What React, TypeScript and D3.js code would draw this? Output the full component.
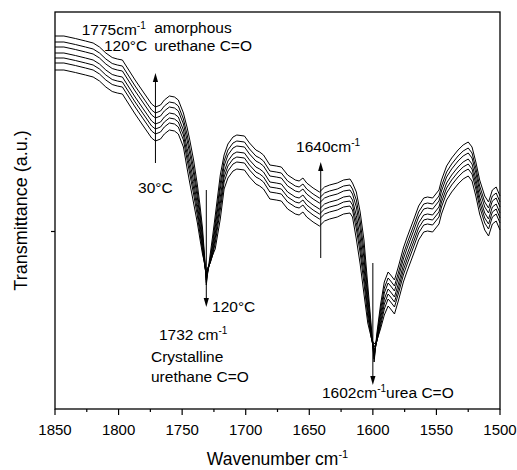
import React from "react";
import * as d3 from "d3";

// Wavenumber grid (cm^-1), shared by all seven spectra
const wavenumbers = [
  1850, 1843, 1834, 1826, 1820, 1815, 1810, 1805, 1801, 1797,
  1793, 1787, 1780, 1774, 1771, 1767, 1764, 1760, 1756, 1753,
  1749, 1746, 1744, 1741, 1738, 1736, 1734, 1732, 1731, 1730,
  1728, 1726, 1724, 1720, 1717, 1714, 1710, 1707, 1701, 1697,
  1692, 1689, 1686, 1681, 1676, 1672, 1667, 1661, 1658, 1655,
  1652, 1647, 1642, 1638, 1634, 1628, 1623, 1618, 1616, 1613,
  1610, 1607, 1604, 1601, 1599, 1597, 1594, 1591, 1588, 1586,
  1583, 1580, 1576, 1573, 1568, 1564, 1560, 1557, 1553, 1548,
  1546, 1542, 1538, 1533, 1529, 1525, 1522, 1519, 1516, 1512,
  1509, 1506, 1503, 1501, 1500,
];

// Transmittance (a.u.)
const t120 = [
  373, 373, 370.5, 368, 366, 362, 356, 351.5, 350, 349,
  341, 329, 316, 305, 302, 304, 309, 313, 312, 309,
  296, 281, 269, 249, 224, 204, 181, 147, 124, 135,
  154, 173, 193, 234, 254, 265, 272, 274, 273, 266,
  259, 257, 254, 244, 243, 242, 234, 229, 228, 231,
  226, 221, 217, 222, 224, 226, 229, 230, 226, 217,
  197, 169, 124, 79, 47, 74, 104, 127, 137, 134,
  129, 142, 161, 172, 189, 203, 211, 212, 211, 219,
  229, 243, 251, 259, 264, 267, 262, 247, 229, 213,
  207, 219, 222, 216, 213,
];
const t105 = [
  367, 367, 364.5, 362, 360, 356, 350, 345.5, 344, 343,
  335, 323, 310, 299, 296, 298, 303, 307, 306, 303,
  290, 274, 261, 241, 217, 197, 175, 145, 126.5, 136,
  150, 167, 186, 226, 248, 259, 266, 268, 267, 260,
  253, 251, 248, 238, 237, 236, 228, 223, 222, 225,
  220, 215, 211, 216, 218, 220, 223, 224, 220, 209,
  188, 159, 116, 75, 50, 71, 99, 121, 131, 128,
  123, 136, 155, 166, 183, 197, 205, 206, 205, 213,
  223, 237, 245, 253, 258, 261, 256, 241, 223, 207,
  201, 213, 216, 210, 207,
];
const t90 = [
  362, 362, 359.5, 357, 355, 351, 345, 340.5, 339, 338,
  330, 318, 305, 294, 291, 293, 298, 302, 301, 298,
  285, 268, 255, 235, 211, 192, 170, 144, 129, 137,
  148, 163, 181, 220, 243, 254, 261, 263, 262, 255,
  248, 246, 243, 233, 232, 231, 223, 218, 217, 220,
  215, 210, 206, 211, 213, 215, 218, 219, 215, 202,
  180, 151, 110, 73, 53, 69, 94, 116, 126, 123,
  118, 131, 150, 161, 178, 192, 200, 201, 200, 208,
  218, 232, 240, 248, 253, 256, 251, 236, 218, 202,
  196, 208, 211, 205, 202,
];
const t75 = [
  356, 356, 353.5, 351, 349, 345, 339, 334.5, 333, 332,
  324, 312, 299, 288, 285, 287, 292, 296, 295, 292,
  279, 260.5, 247.5, 227.5, 204.5, 185.5, 165, 143, 131.5, 138,
  147, 159, 175, 212, 237, 248, 255, 257, 256, 249,
  242, 240, 237, 227, 226, 225, 217, 212, 211, 214,
  209, 204, 200, 205, 207, 209, 212, 213, 209, 193.5,
  171, 142, 103, 71, 56, 68, 90, 110, 120, 117,
  112, 125, 144, 155, 172, 186, 194, 195, 194, 202,
  212, 226, 234, 242, 247, 250, 245, 230, 212, 196,
  190, 202, 205, 199, 196,
];
const t60 = [
  351, 351, 348.5, 346, 344, 340, 334, 329.5, 328, 327,
  319, 307, 294, 283, 280, 282, 287, 291, 290, 287,
  274, 254.5, 241, 221, 199, 180, 161, 142, 134, 139,
  147, 156, 170.5, 205.5, 232, 243, 250, 252, 251, 244,
  237, 235, 232, 222, 221, 220, 212, 207, 206, 209,
  204, 199, 195, 200, 202, 204, 207, 208, 204, 186.5,
  163, 134, 97.5, 70, 59, 67, 86, 105, 115, 112,
  107, 120, 139, 150, 167, 181, 189, 190, 189, 197,
  207, 221, 229, 237, 242, 245, 240, 225, 207, 191,
  185, 197, 200, 194, 191,
];
const t45 = [
  346, 346, 343.5, 341, 339, 335, 329, 324.5, 323, 322,
  314, 302, 289, 278, 275, 277, 282, 286, 285, 282,
  269, 248.5, 235, 215, 193, 175.5, 158, 142, 136.5, 140,
  146, 154, 166, 199, 227, 238, 245, 247, 246, 239,
  232, 230, 227, 217, 216, 215, 207, 202, 201, 204,
  199, 194, 190, 195, 197, 199, 202, 203, 199, 180,
  156, 126, 92, 70, 62, 67, 83, 100, 110, 107,
  102, 115, 134, 145, 162, 176, 184, 185, 184, 192,
  202, 216, 224, 232, 237, 240, 235, 220, 202, 186,
  180, 192, 195, 189, 186,
];
const t30 = [
  339, 339, 336.5, 334, 332, 328, 322, 317.5, 316, 315,
  307, 295, 282, 271, 268, 270, 275, 279, 278, 275,
  262, 240, 226, 206, 186, 170, 155, 144, 139, 141,
  146, 154, 160, 190, 220, 231, 238, 240, 239, 232,
  225, 223, 220, 210, 209, 208, 200, 195, 194, 197,
  192, 187, 183, 188, 190, 192, 195, 196, 192, 170,
  145, 115, 86, 70, 65, 68, 80, 94, 103, 100,
  95, 108, 127, 138, 155, 169, 177, 178, 177, 185,
  195, 209, 217, 225, 230, 233, 228, 213, 195, 179,
  173, 185, 188, 182, 179,
];

const temperatures = ["120°C", "105°C", "90°C", "75°C", "60°C", "45°C", "30°C"];
const spectra = [t120, t105, t90, t75, t60, t45, t30];

const xTicks = [1850, 1800, 1750, 1700, 1650, 1600, 1550, 1500];
const xMinorTicks = [1825, 1775, 1725, 1675, 1625, 1575, 1525];
const yTicks = [177.5];

// arrows: wavenumber, start transmittance, tip transmittance
const arrows = [
  { wn: 1771, from: 246, to: 336 },
  { wn: 1731, from: 219, to: 102 },
  { wn: 1641, from: 151, to: 247 },
  { wn: 1600, from: 146, to: 24 },
];

type Part = { s: string; sup?: boolean };
const annotations: { wn: number; t: number; parts: Part[] }[] = [
  { wn: 1829, t: 374, parts: [{ s: "1775cm" }, { s: "-1", sup: true }] },
  { wn: 1772, t: 376, parts: [{ s: "amorphous" }] },
  { wn: 1811.5, t: 358, parts: [{ s: "120°C" }] },
  { wn: 1772, t: 358, parts: [{ s: "urethane C=O" }] },
  { wn: 1784.7, t: 216, parts: [{ s: "30°C" }] },
  { wn: 1726.5, t: 97, parts: [{ s: "120°C" }] },
  { wn: 1768.2, t: 69, parts: [{ s: "1732 cm" }, { s: "-1", sup: true }] },
  { wn: 1774.5, t: 47, parts: [{ s: "Crystalline" }] },
  { wn: 1774.5, t: 27, parts: [{ s: "urethane C=O" }] },
  { wn: 1660.4, t: 257, parts: [{ s: "1640cm" }, { s: "-1", sup: true }] },
  { wn: 1640, t: 11, parts: [{ s: "1602cm" }, { s: "-1", sup: true }, { s: "urea C=O" }] },
];

const FONT = '"Liberation Sans", Arial, Helvetica, sans-serif';

function renderParts(parts: Part[], supSize: number, shift: number) {
  let prevSup = false;
  return parts.map((p, i) => {
    let dy = 0;
    if (p.sup && !prevSup) dy = -shift;
    else if (!p.sup && prevSup) dy = shift;
    prevSup = !!p.sup;
    return (
      <tspan key={i} dy={dy} fontSize={p.sup ? supSize : undefined}>
        {p.s}
      </tspan>
    );
  });
}

export default function App() {
  const W = 517;
  const H = 470;
  const x = d3.scaleLinear().domain([1850, 1500]).range([55, 500]);
  const y = d3.scaleLinear().domain([0, 397]).range([409, 12]);
  const line = d3
    .line<number>()
    .x((_, i) => x(wavenumbers[i]))
    .y((d) => y(d))
    .curve(d3.curveLinear);

  const [x0, x1] = x.range();
  const [y0, y1] = y.range();

  return (
    <svg
      width={W}
      height={H}
      style={{ position: "absolute", left: 0, top: 0, background: "#fff" }}
      fontFamily={FONT}
    >
      <rect x={0} y={0} width={W} height={H} fill="#fff" />
      <g>
        {spectra.map((s, i) => (
          <path
            key={temperatures[i]}
            d={line(s) || ""}
            fill="none"
            stroke="#000"
            strokeWidth={1}
            strokeLinejoin="round"
          />
        ))}
      </g>
      {/* frame */}
      <rect
        x={x0}
        y={y1}
        width={x1 - x0}
        height={y0 - y1}
        fill="none"
        stroke="#000"
        strokeWidth={1.3}
      />
      {/* x ticks */}
      {xTicks.map((v) => (
        <g key={v}>
          <line x1={x(v)} x2={x(v)} y1={y0} y2={y0 + 6} stroke="#000" strokeWidth={1.2} />
          <text x={x(v)} y={y0 + 26} fontSize={15} textAnchor="middle" fill="#000">
            {v}
          </text>
        </g>
      ))}
      {xMinorTicks.map((v) => (
        <line key={v} x1={x(v)} x2={x(v)} y1={y0} y2={y0 + 3} stroke="#000" strokeWidth={1.2} />
      ))}
      {yTicks.map((v) => (
        <line key={v} x1={x0 - 4} x2={x0} y1={y(v)} y2={y(v)} stroke="#000" strokeWidth={1.2} />
      ))}
      {/* arrows */}
      {arrows.map((a, i) => {
        const cx = x(a.wn);
        const ys = y(a.from);
        const tip = y(a.to);
        const sgn = Math.sign(ys - tip);
        const base = tip + sgn * 9;
        return (
          <g key={i}>
            <line x1={cx} x2={cx} y1={ys} y2={base} stroke="#000" strokeWidth={1} />
            <polygon
              points={`${cx},${tip} ${cx - 2.6},${base} ${cx + 2.6},${base}`}
              fill="#000"
            />
          </g>
        );
      })}
      {/* annotations */}
      {annotations.map((a, i) => (
        <text key={i} x={x(a.wn)} y={y(a.t)} fontSize={15.5} fill="#000">
          {renderParts(a.parts, 10, 6)}
        </text>
      ))}
      {/* axis titles */}
      <text x={(x0 + x1) / 2} y={465} fontSize={17.5} textAnchor="middle" fill="#000">
        {renderParts([{ s: "Wavenumber cm" }, { s: "-1", sup: true }], 11, 7)}
      </text>
      <text
        transform={`translate(27, ${(y0 + y1) / 2}) rotate(-90)`}
        fontSize={18}
        textAnchor="middle"
        fill="#000"
      >
        Transmittance (a.u.)
      </text>
    </svg>
  );
}
